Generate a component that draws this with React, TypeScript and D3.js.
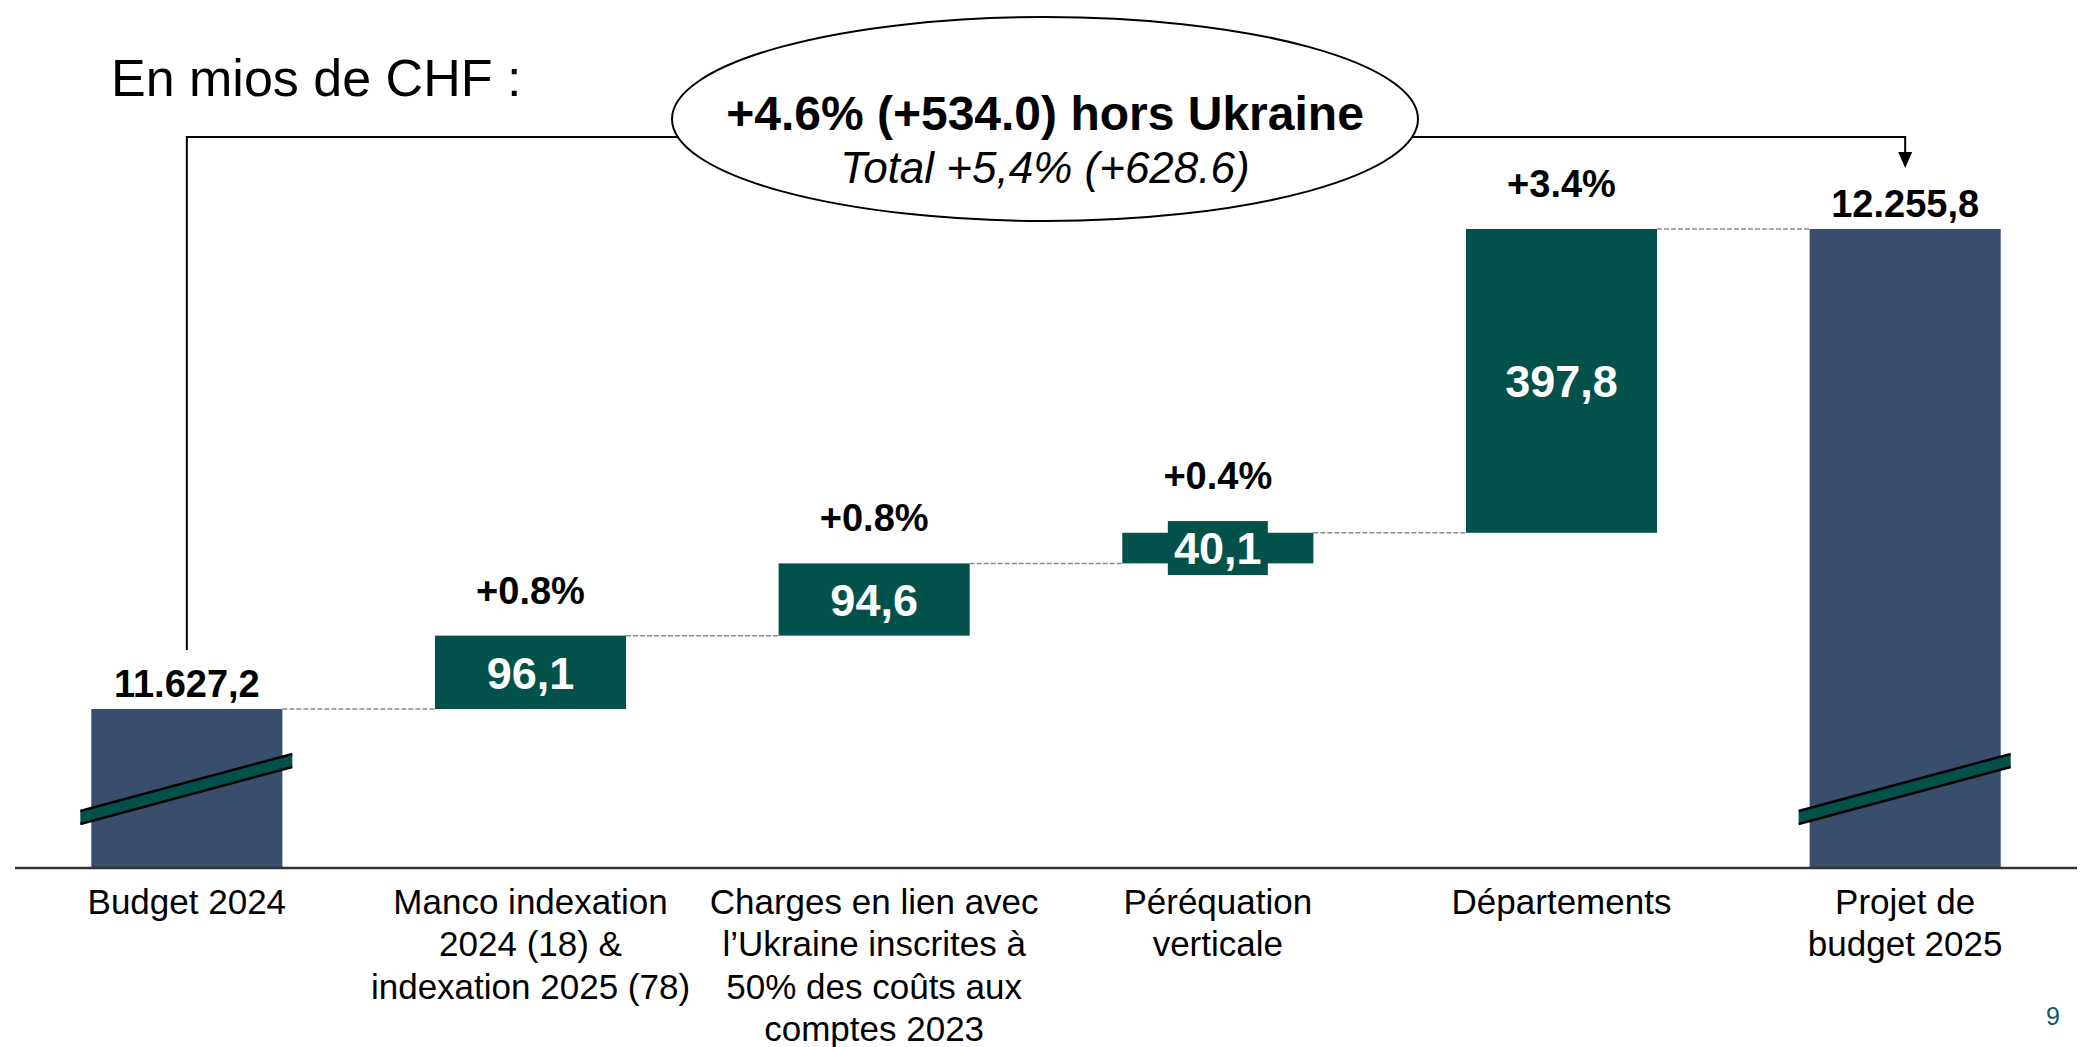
import { useMemo } from "react";
import * as d3 from "d3";

// data (mios de CHF)
const categories = [
  "Budget 2024",
  "Manco indexation",
  "Charges Ukraine",
  "Péréquation verticale",
  "Départements",
  "Projet de budget 2025",
];
const categoryLines = [
  ["Budget 2024"],
  ["Manco indexation", "2024 (18) &", "indexation 2025 (78)"],
  ["Charges en lien avec", "l’Ukraine inscrites à", "50% des coûts aux", "comptes 2023"],
  ["Péréquation", "verticale"],
  ["Départements"],
  ["Projet de", "budget 2025"],
];
const values = [11627.2, 96.1, 94.6, 40.1, 397.8, 12255.8];
const isTotal = [true, false, false, false, false, true];
const valueLabels = ["11.627,2", "96,1", "94,6", "40,1", "397,8", "12.255,8"];
const pctLabels = [null, "+0.8%", "+0.8%", "+0.4%", "+3.4%", null];
const yDomain = [11419, 12255.8]; // broken axis: baseline is not zero

const W = 2090;
const H = 1047;
const NAVY = "#394D6C";
const GREEN = "#02524B";
const FONT = "'Liberation Sans', Arial, Helvetica, sans-serif";

export default function App() {
  const baseY = 868;
  const x = useMemo(
    () =>
      d3
        .scaleBand()
        .domain(categories)
        .range([15, 2077])
        .paddingInner(0.444)
        .paddingOuter(0.222),
    []
  );
  const y = useMemo(
    () => d3.scaleLinear().domain(yDomain).range([baseY, 229]),
    []
  );

  // build the waterfall steps
  const bars = useMemo(() => {
    let cum = 0;
    return values.map((v, i) => {
      let lo, hi;
      if (isTotal[i]) {
        lo = yDomain[0];
        hi = v;
        cum = v;
      } else {
        lo = cum;
        hi = cum + v;
        cum = hi;
      }
      return { cat: categories[i], lo, hi, i };
    });
  }, []);

  const bw = x.bandwidth();
  const cx = (c: string) => (x(c) as number) + bw / 2;

  const breakMark = (c: string) => {
    const x0 = (x(c) as number) - 11;
    const x1 = (x(c) as number) + bw + 10;
    const yl = baseY - 57;
    const yr = baseY - 114;
    const t = 13;
    return (
      <g key={"brk" + c}>
        <polygon
          points={`${x0},${yl} ${x1},${yr} ${x1},${yr + t} ${x0},${yl + t}`}
          fill={GREEN}
        />
        <line x1={x0} y1={yl} x2={x1} y2={yr} stroke="#000" strokeWidth={2.5} />
        <line x1={x0} y1={yl + t} x2={x1} y2={yr + t} stroke="#000" strokeWidth={2.5} />
      </g>
    );
  };

  const first = bars[0];
  const last = bars[bars.length - 1];
  const leftX = cx(first.cat);
  const rightX = cx(last.cat);
  const ell = { cx: 1045, cy: 119, rx: 373, ry: 102 };
  const lineY = 137;
  // where the bracket line meets the ellipse outline
  const half = ell.rx * Math.sqrt(1 - Math.pow((lineY - ell.cy) / ell.ry, 2));

  return (
    <svg
      width={W}
      height={H}
      style={{ position: "absolute", left: 0, top: 0, background: "#fff" }}
      fontFamily={FONT}
    >
      <rect width={W} height={H} fill="#fff" />

      <text x={111} y={96} fontSize={52} fill="#000">
        En mios de CHF :
      </text>

      {/* dashed connectors */}
      {bars.slice(0, -1).map((b, i) => {
        const next = bars[i + 1];
        const lvl = b.hi;
        return (
          <line
            key={"c" + i}
            x1={(x(b.cat) as number) + bw}
            x2={x(next.cat) as number}
            y1={y(lvl)}
            y2={y(lvl)}
            stroke="#8a8a8a"
            strokeWidth={1.5}
            strokeDasharray="5,2"
          />
        );
      })}

      {/* bars */}
      {bars.map((b) => (
        <rect
          key={b.cat}
          x={x(b.cat)}
          y={y(b.hi)}
          width={bw}
          height={y(b.lo) - y(b.hi)}
          fill={isTotal[b.i] ? NAVY : GREEN}
        />
      ))}

      {/* axis */}
      <line x1={15} x2={2077} y1={baseY} y2={baseY} stroke="#333" strokeWidth={2.5} />

      {breakMark(first.cat)}
      {breakMark(last.cat)}

      {/* value labels */}
      {bars.map((b) => {
        const top = y(b.hi);
        if (isTotal[b.i]) {
          return (
            <text
              key={"v" + b.cat}
              x={cx(b.cat)}
              y={top - 12}
              fontSize={38}
              fontWeight="bold"
              textAnchor="middle"
            >
              {valueLabels[b.i]}
            </text>
          );
        }
        const mid = (y(b.lo) + top) / 2;
        const small = y(b.lo) - top < 50;
        const boxTop = small ? mid - 27 : top;
        return (
          <g key={"v" + b.cat}>
            {small && (
              <rect x={cx(b.cat) - 50} y={mid - 27} width={100} height={54} fill={GREEN} />
            )}
            <text
              x={cx(b.cat)}
              y={mid}
              dy="0.36em"
              fontSize={45}
              fontWeight="bold"
              fill="#fff"
              textAnchor="middle"
            >
              {valueLabels[b.i]}
            </text>
            <text
              x={cx(b.cat)}
              y={boxTop - 32}
              fontSize={38}
              fontWeight="bold"
              textAnchor="middle"
            >
              {pctLabels[b.i]}
            </text>
          </g>
        );
      })}

      {/* category labels */}
      {categories.map((c, i) => (
        <text key={"k" + c} x={cx(c)} y={914} fontSize={35} textAnchor="middle">
          {categoryLines[i].map((ln, j) => (
            <tspan key={j} x={cx(c)} dy={j === 0 ? 0 : 42.3}>
              {ln}
            </tspan>
          ))}
        </text>
      ))}

      {/* total bracket with ellipse */}
      <path
        d={`M${leftX},${y(first.hi) - 59} V${lineY} H${ell.cx - half}`}
        fill="none"
        stroke="#000"
        strokeWidth={2}
      />
      <path
        d={`M${ell.cx + half},${lineY} H${rightX} V${153}`}
        fill="none"
        stroke="#000"
        strokeWidth={2}
      />
      <polygon
        points={`${rightX - 7},${152} ${rightX + 7},${152} ${rightX},${168}`}
        fill="#000"
      />
      <ellipse
        cx={ell.cx}
        cy={ell.cy}
        rx={ell.rx}
        ry={ell.ry}
        fill="#fff"
        stroke="#000"
        strokeWidth={2}
      />
      <text x={ell.cx} y={113} dy="0.36em" fontSize={48} fontWeight="bold" textAnchor="middle">
        +4.6% (+534.0) hors Ukraine
      </text>
      <text x={ell.cx} y={167} dy="0.36em" fontSize={44} fontStyle="italic" textAnchor="middle">
        Total +5,4% (+628.6)
      </text>

      <text x={2053} y={1025} fontSize={25} fill="#0B5E57" textAnchor="middle">
        9
      </text>
    </svg>
  );
}
